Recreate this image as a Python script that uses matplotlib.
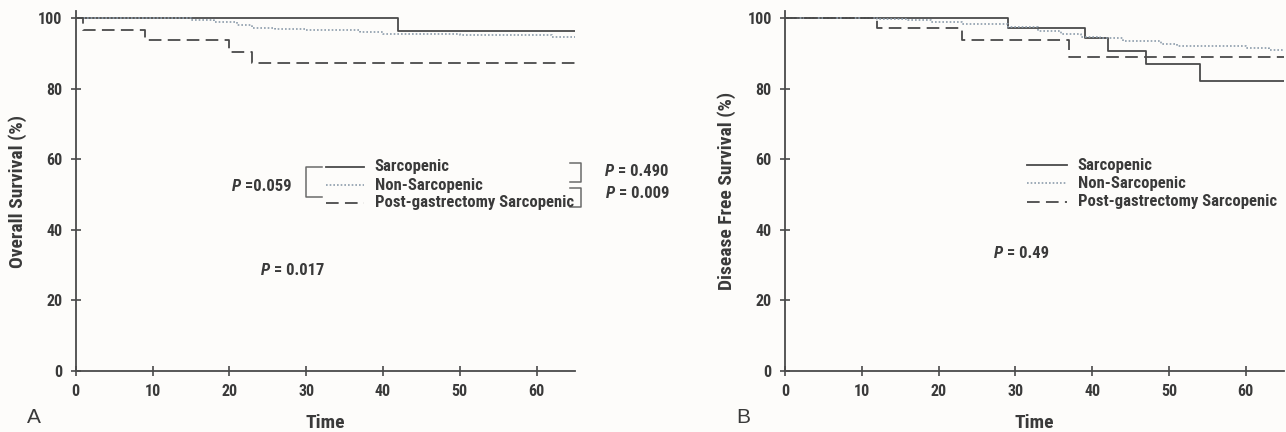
import matplotlib
matplotlib.use("Agg")
import matplotlib.pyplot as plt

# Overall survival (panel A)
os_sarc_t = [0, 42, 65]
os_sarc_s = [100, 96.5, 96.5]
os_non_t = [0, 15, 18, 21, 23, 26, 30, 37, 40, 50, 62, 65]
os_non_s = [100, 99.5, 99.0, 98.2, 97.3, 97.0, 96.8, 96.0, 95.7, 95.3, 94.6, 94.6]
os_post_t = [0, 1, 9, 20, 23, 65]
os_post_s = [100, 96.7, 94.0, 90.5, 87.3, 87.3]

# Disease free survival (panel B)
dfs_sarc_t = [0, 29, 39, 42, 47, 54, 65]
dfs_sarc_s = [100, 97.4, 94.3, 90.8, 87.0, 82.3, 82.3]
dfs_non_t = [0, 12, 16, 19, 23, 29, 33, 36, 38.5, 41, 44, 49, 51, 58, 60, 63, 65]
dfs_non_s = [100, 99.8, 99.5, 99.0, 98.4, 97.6, 96.4, 95.7, 94.8, 94.3, 93.6,
             92.7, 92.2, 92.2, 91.5, 91.0, 91.0]
dfs_post_t = [0, 12, 23, 37, 65]
dfs_post_s = [100, 97.3, 93.8, 89.1, 89.1]

group_names = ["Sarcopenic", "Non-Sarcopenic", "Post-gastrectomy Sarcopenic"]
x_ticks = [0, 10, 20, 30, 40, 50, 60]
y_ticks = [0, 20, 40, 60, 80, 100]

FONT = ["Roboto Condensed", "Liberation Sans", "DejaVu Sans"]
plt.rcParams["font.family"] = FONT
INK = "#3a3a3a"
LINE = "#4a4a4a"
DOT = "#8d9cab"
BG = "#fdfcfa"

styles = [
    dict(color=LINE, lw=1.3, ls="-"),
    dict(color=DOT, lw=1.2, ls=(0, (1, 1.2))),
    dict(color=LINE, lw=1.3, ls=(0, (7, 3.5))),
]


def p_text(ax, x, y, rest):
    """Italic bold P followed by the value, as in the figure"""
    t = ax.text(x, y, "P", fontsize=12, fontweight="bold", style="italic",
                color=INK, va="center", ha="left", clip_on=False)
    ax.annotate(rest, xy=(1, 0.5), xycoords=t, fontsize=12, fontweight="bold",
                color=INK, va="center", ha="left", annotation_clip=False)
    return t


def style_axes(ax, ylabel, letter):
    ax.set_facecolor(BG)
    ax.set_xlim(0, 65)
    ax.set_ylim(0, 102)
    ax.set_xticks(x_ticks)
    ax.set_yticks(y_ticks)
    for side in ["top", "right"]:
        ax.spines[side].set_visible(False)
    for side in ["left", "bottom"]:
        ax.spines[side].set_color(LINE)
        ax.spines[side].set_linewidth(1.3)
    ax.tick_params(direction="inout", length=7, width=1.2, color=LINE,
                   labelsize=11.5, labelcolor=INK, pad=6)
    for lab in ax.get_xticklabels() + ax.get_yticklabels():
        lab.set_fontweight("bold")
    ax.set_xlabel("Time", fontsize=14, fontweight="bold", color=INK, labelpad=11)
    ax.set_ylabel(ylabel, fontsize=14, fontweight="bold", color=INK, labelpad=8)
    ax.text(-0.097, -0.13, letter, transform=ax.transAxes, fontsize=15,
            color=INK, ha="left", va="center", family=["Liberation Sans"])


def legend_rows(ax, x0, x1, xt, ys):
    for name, st, y in zip(group_names, styles, ys):
        ax.plot([x0, x1], [y, y], **st)
        ax.text(xt, y, name, fontsize=12, fontweight="bold", color=INK,
                va="center", ha="left")


fig = plt.figure(figsize=(12.86, 4.32), dpi=100)
fig.patch.set_facecolor(BG)

axA = fig.add_axes([75.8 / 1286, 1 - 371 / 432, 499.2 / 1286, 359.7 / 432])
axB = fig.add_axes([785 / 1286, 1 - 371 / 432, 499.2 / 1286, 359.7 / 432])

for (t, s), st in zip([(os_sarc_t, os_sarc_s), (os_non_t, os_non_s),
                       (os_post_t, os_post_s)], styles):
    axA.step(t, s, where="post", **st)
for (t, s), st in zip([(dfs_sarc_t, dfs_sarc_s), (dfs_non_t, dfs_non_s),
                       (dfs_post_t, dfs_post_s)], styles):
    axB.step(t, s, where="post", **st)

style_axes(axA, "Overall Survival (%)", "A")
style_axes(axB, "Disease Free Survival (%)", "B")

# panel A legend and comparison brackets
legend_rows(axA, 32.6, 37.5, 38.9, [57.9, 52.7, 47.7])
bk = dict(color="#6a6a6a", lw=1.1, clip_on=False)
axA.plot([32.1, 30.0, 30.0, 32.1], [57.9, 57.9, 49.4, 49.4], **bk)
axA.plot([64.4, 65.8, 65.8, 64.4], [58.9, 58.9, 53.7, 53.7], **bk)
axA.plot([64.4, 65.8, 65.8, 64.4], [51.8, 51.8, 46.6, 46.6], **bk)
p_text(axA, 20.3, 52.3, " =0.059")
p_text(axA, 68.9, 56.5, " = 0.490")
p_text(axA, 69.0, 50.4, " = 0.009")
p_text(axA, 24.1, 28.6, " = 0.017")

# panel B legend
legend_rows(axB, 31.5, 36.7, 38.1, [58.4, 53.2, 48.0])
p_text(axB, 27.2, 33.2, " = 0.49")

fig.savefig("out.png", dpi=100, facecolor=BG)
